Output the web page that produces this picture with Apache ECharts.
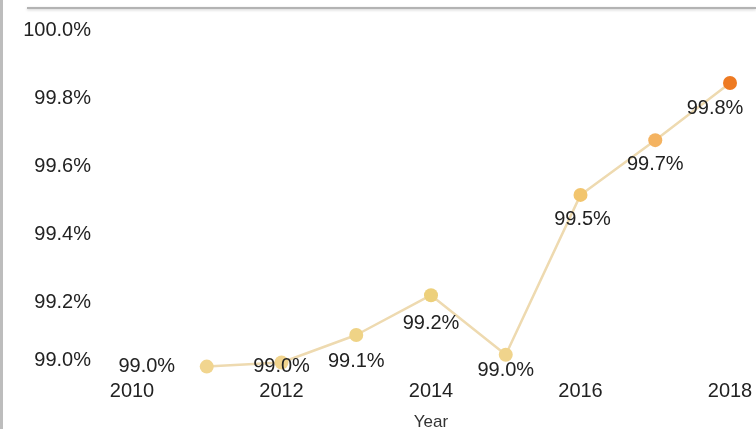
<!DOCTYPE html>
<html>
<head>
<meta charset="utf-8">
<script src="https://cdn.jsdelivr.net/npm/echarts@6/dist/echarts.min.js"></script>
<style>
html,body{margin:0;padding:0;background:#fff;}
#chart{width:756px;height:429px;}
</style>
</head>
<body>
<div id="chart"></div>
<script>
// Data
const years = [2011, 2012, 2013, 2014, 2015, 2016, 2017, 2018];
const rates = [99.01, 99.022, 99.103, 99.22, 99.045, 99.515, 99.676, 99.844];
const yTicks = [99.0, 99.2, 99.4, 99.6, 99.8, 100.0];
const xTicks = [2010, 2012, 2014, 2016, 2018];

// Label offsets (style only)
const labelOffsets = [[-60, 0], [0, 4], [0, 27], [0, 28], [0, 16], [2, 25], [0, 24], [-15, 25]];

const points = years.map((y, i) => ({
  value: [y, rates[i]],
  label: { offset: labelOffsets[i] }
}));

const FONT = '"Liberation Sans", Arial, sans-serif';
const chart = echarts.init(document.getElementById('chart'));
chart.setOption({
  animation: false,
  backgroundColor: '#ffffff',
  grid: { left: 132, right: 26, top: 30, bottom: 59, outerBoundsMode: 'none', containLabel: false },
  xAxis: {
    type: 'value',
    min: xTicks[0],
    max: xTicks[xTicks.length - 1],
    interval: 2,
    name: 'Year',
    nameLocation: 'middle',
    nameGap: 44,
    nameTextStyle: { fontFamily: FONT, fontSize: 17, color: '#333' },
    axisLine: { show: false },
    axisTick: { show: false },
    splitLine: { show: false },
    axisLabel: { margin: 11, fontFamily: FONT, fontSize: 20, color: '#222', formatter: v => String(v) }
  },
  yAxis: {
    type: 'value',
    min: yTicks[0],
    max: yTicks[yTicks.length - 1],
    interval: 0.2,
    axisLine: { show: false },
    axisTick: { show: false },
    splitLine: { show: false },
    axisLabel: {
      margin: 41, fontFamily: FONT, fontSize: 20, color: '#222',
      verticalAlignMinLabel: 'bottom',
      formatter: v => v.toFixed(1) + '%'
    }
  },
  visualMap: {
    show: false,
    type: 'continuous',
    seriesIndex: 1,
    dimension: 1,
    min: 99.0,
    max: 99.844,
    inRange: { color: ['#f1d590', '#edd07c', '#efc86c', '#f5c171', '#ee7a22'] }
  },
  graphic: [
    { type: 'rect', shape: { x: 0, y: 0, width: 3, height: 429 }, style: { fill: '#bdbdbd' }, silent: true },
    { type: 'line', shape: { x1: 27, y1: 8, x2: 756, y2: 8 }, style: { stroke: '#b3b3b3', lineWidth: 2, shadowBlur: 3, shadowColor: 'rgba(0,0,0,0.2)', shadowOffsetY: 1 }, silent: true }
  ],
  series: [
    {
      type: 'line',
      data: years.map((y, i) => [y, rates[i]]),
      showSymbol: false,
      lineStyle: { color: '#eedab0', width: 2.5 },
      z: 1
    },
    {
      type: 'scatter',
      data: points,
      symbolSize: 14,
      z: 2,
      itemStyle: { opacity: 1 },
      label: {
        show: true,
        position: 'inside',
        fontFamily: FONT,
        fontSize: 20,
        color: '#222',
        opacity: 1,
        formatter: p => p.value[1].toFixed(1) + '%'
      }
    }
  ]
});
</script>
</body>
</html>
